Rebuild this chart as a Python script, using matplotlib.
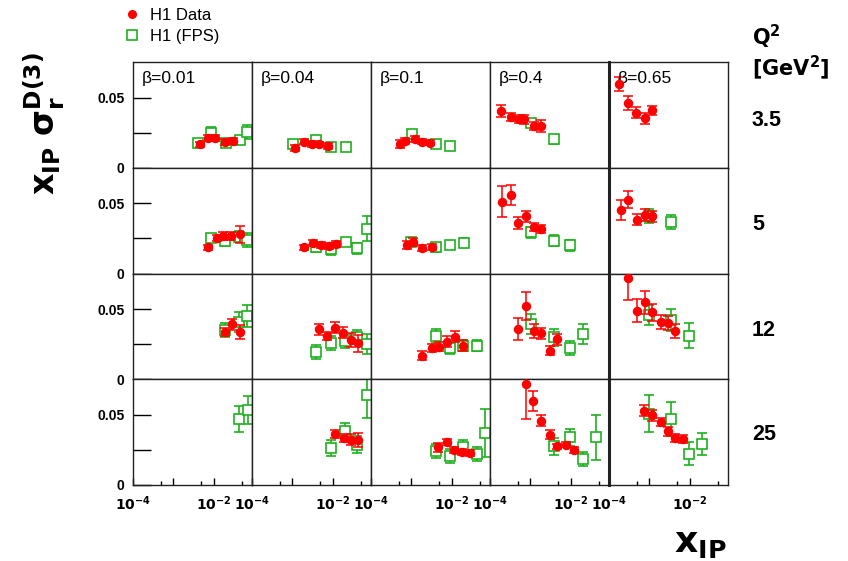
import matplotlib
matplotlib.use("Agg")
import matplotlib.pyplot as plt
from matplotlib.lines import Line2D

BETAS = ["0.01", "0.04", "0.1", "0.4", "0.65"]
Q2 = ["3.5", "5", "12", "25"]

# H1 data, indexed [Q2 row][beta column]
red_x = [
    [[0.0045, 0.0073, 0.0106, 0.0195, 0.030],
     [0.00117, 0.00194, 0.0030, 0.0046, 0.0076],
     [0.00051, 0.00071, 0.00122, 0.00189, 0.0029],
     [0.00019, 0.00033, 0.00051, 0.00071, 0.00122, 0.00189],
     [0.00018, 0.00029, 0.00048, 0.00077, 0.00115]],
    [[0.0073, 0.0121, 0.0175, 0.027, 0.0446],
     [0.00194, 0.0032, 0.0052, 0.0080, 0.0123],
     [0.00079, 0.0011, 0.00189, 0.0033],
     [0.00020, 0.00033, 0.00049, 0.00079, 0.00122, 0.00189],
     [0.00020, 0.00030, 0.00050, 0.00077, 0.0012]],
    [[0.0195, 0.0288, 0.0466],
     [0.0046, 0.0072, 0.0115, 0.0179, 0.0294, 0.0427],
     [0.00189, 0.0033, 0.0048, 0.0075, 0.0121, 0.0195],
     [0.00049, 0.00079, 0.00122, 0.00189, 0.0031, 0.0047],
     [0.00030, 0.00050, 0.00077, 0.0012, 0.00194, 0.00286, 0.0044]],
    [[],
     [0.0115, 0.0191, 0.0294, 0.0436],
     [0.0045, 0.0075, 0.0115, 0.0186, 0.0288],
     [0.00079, 0.00117, 0.00189, 0.0031, 0.0047, 0.0075, 0.0121],
     [0.00074, 0.0012, 0.00194, 0.00286, 0.0044, 0.0068]],
]
red_y = [
    [[0.0167, 0.0214, 0.0214, 0.0183, 0.019],
     [0.0143, 0.0186, 0.0171, 0.0167, 0.0155],
     [0.0171, 0.019, 0.0207, 0.0186, 0.0179],
     [0.0405, 0.0362, 0.035, 0.0345, 0.0298, 0.0298],
     [0.0595, 0.0464, 0.0393, 0.0352, 0.041]],
    [[0.0186, 0.0252, 0.0269, 0.0269, 0.0281],
     [0.0186, 0.0217, 0.0205, 0.0198, 0.021],
     [0.0202, 0.0226, 0.0181, 0.019],
     [0.0512, 0.056, 0.036, 0.0407, 0.0333, 0.0317],
     [0.0455, 0.0526, 0.0383, 0.0417, 0.0407]],
    [[0.0336, 0.0393, 0.034],
     [0.0357, 0.031, 0.0369, 0.0333, 0.0281, 0.0257],
     [0.0169, 0.0221, 0.0233, 0.0269, 0.0305, 0.024],
     [0.0357, 0.0524, 0.0345, 0.0329, 0.0205, 0.0286],
     [0.0726, 0.049, 0.0548, 0.0479, 0.0407, 0.040, 0.0345]],
    [[],
     [0.0364, 0.0336, 0.0324, 0.0324],
     [0.0269, 0.0307, 0.0248, 0.0236, 0.0229],
     [0.0721, 0.0598, 0.046, 0.036, 0.0276, 0.0288, 0.0248],
     [0.0531, 0.0498, 0.045, 0.0383, 0.0336, 0.0329]],
]
red_err = [
    [[0.002, 0.002, 0.002, 0.002, 0.002],
     [0.002, 0.002, 0.002, 0.002, 0.002],
     [0.003, 0.002, 0.002, 0.002, 0.002],
     [0.004, 0.003, 0.003, 0.003, 0.003, 0.004],
     [0.005, 0.005, 0.004, 0.004, 0.003]],
    [[0.002, 0.002, 0.003, 0.003, 0.006],
     [0.002, 0.002, 0.002, 0.002, 0.002],
     [0.003, 0.003, 0.002, 0.002],
     [0.011, 0.007, 0.004, 0.004, 0.003, 0.003],
     [0.007, 0.006, 0.004, 0.004, 0.004]],
    [[0.003, 0.004, 0.005],
     [0.004, 0.003, 0.004, 0.004, 0.005, 0.006],
     [0.003, 0.003, 0.003, 0.004, 0.004, 0.004],
     [0.008, 0.010, 0.005, 0.004, 0.003, 0.004],
     [0.016, 0.008, 0.008, 0.006, 0.005, 0.005, 0.005]],
    [[],
     [0.003, 0.003, 0.004, 0.005],
     [0.003, 0.002, 0.002, 0.002, 0.002],
     [0.025, 0.007, 0.004, 0.003, 0.002, 0.002, 0.002],
     [0.004, 0.004, 0.003, 0.003, 0.003, 0.003]],
]

# H1 FPS data
fps_x = [
    [[0.0040, 0.0087, 0.0208, 0.0446, 0.0689],
     [0.00107, 0.0039, 0.0093, 0.0212],
     [0.00103, 0.0041, 0.0093],
     [0.00105, 0.0039],
     []],
    [[0.0087, 0.0195, 0.0418, 0.0689],
     [0.0039, 0.0093, 0.0212, 0.0408, 0.0705],
     [0.00098, 0.0041, 0.0093, 0.0199],
     [0.00105, 0.0038, 0.0097],
     [0.00101, 0.00356]],
    [[0.0195, 0.0418, 0.0689],
     [0.0039, 0.0093, 0.0199, 0.0408, 0.0736],
     [0.0041, 0.0093, 0.0195, 0.0418],
     [0.00105, 0.0038, 0.0097, 0.0204],
     [0.00101, 0.00356, 0.0095]],
    [[0.0436, 0.0705],
     [0.0093, 0.0203, 0.0408, 0.0705],
     [0.0041, 0.0093, 0.0195, 0.0418, 0.0689],
     [0.0038, 0.0097, 0.0204, 0.0417],
     [0.00101, 0.00356, 0.0095, 0.0203]],
]
fps_y = [
    [[0.0179, 0.025, 0.0179, 0.0198, 0.0257],
     [0.0171, 0.020, 0.0148, 0.0148],
     [0.0243, 0.0171, 0.0155],
     [0.0321, 0.0202],
     []],
    [[0.0252, 0.0233, 0.0264, 0.024],
     [0.0186, 0.0174, 0.0226, 0.0181, 0.0321],
     [0.0226, 0.0186, 0.0202, 0.0221],
     [0.0293, 0.0233, 0.0202],
     [0.0412, 0.0369]],
    [[0.0352, 0.0407, 0.0452],
     [0.0193, 0.0257, 0.0276, 0.030, 0.0252],
     [0.031, 0.0221, 0.024, 0.024],
     [0.0395, 0.030, 0.0221, 0.0324],
     [0.046, 0.0424, 0.031]],
    [[0.0471, 0.0538],
     [0.0264, 0.0383, 0.0288, 0.064],
     [0.024, 0.0205, 0.0269, 0.0224, 0.0371],
     [0.0276, 0.034, 0.0186, 0.034],
     [0.051, 0.0471, 0.0224, 0.0293]],
]
fps_err = [
    [[0.002, 0.004, 0.002, 0.003, 0.005],
     [0.002, 0.003, 0.002, 0.002],
     [0.003, 0.002, 0.003],
     [0.003, 0.003],
     []],
    [[0.003, 0.004, 0.004, 0.005],
     [0.003, 0.004, 0.003, 0.004, 0.009],
     [0.003, 0.003, 0.003, 0.003],
     [0.004, 0.004, 0.004],
     [0.005, 0.005]],
    [[0.005, 0.007, 0.008],
     [0.005, 0.005, 0.005, 0.005, 0.007],
     [0.005, 0.004, 0.004, 0.004],
     [0.007, 0.006, 0.005, 0.007],
     [0.007, 0.008, 0.009]],
    [[0.009, 0.010],
     [0.006, 0.006, 0.006, 0.016],
     [0.005, 0.005, 0.005, 0.005, 0.017],
     [0.006, 0.006, 0.005, 0.016],
     [0.013, 0.012, 0.008, 0.008]],
]

RED = "#ff0000"
GREEN = "#1fb01f"

fig, axes = plt.subplots(4, 5, figsize=(8.48, 5.61), dpi=100)
fig.subplots_adjust(left=133 / 848, right=728 / 848, top=1 - 62 / 561,
                    bottom=1 - 485 / 561, wspace=0, hspace=0)

for r in range(4):
    for c in range(5):
        ax = axes[r][c]
        ax.set_xscale("log")
        if fps_x[r][c]:
            ax.errorbar(fps_x[r][c], fps_y[r][c], yerr=fps_err[r][c], fmt="s",
                        ms=7, mfc="white", mec=GREEN, mew=1.2, ecolor=GREEN,
                        elinewidth=1.2, capsize=3.5, capthick=1.2, zorder=2)
        if red_x[r][c]:
            ax.errorbar(red_x[r][c], red_y[r][c], yerr=red_err[r][c], fmt="o",
                        ms=5.8, color=RED, ecolor=RED, elinewidth=1.1,
                        capsize=3.5, capthick=1.1, zorder=3)
        ax.set_xlim(1e-4, 0.09)
        ax.set_ylim(0, 0.0755)
        for s in ax.spines.values():
            s.set_linewidth(1.0)
            s.set_color("#222222")
        if c == 4:
            ax.spines["left"].set_linewidth(2.2)

        # y ticks only in first column
        ax.set_yticks([0, 0.05])
        ax.set_yticks([0.025], minor=True)
        if c == 0:
            ax.set_yticklabels(["0", "0.05"], fontsize=10, fontweight="bold",
                               family="Liberation Sans")
            ax.tick_params(axis="y", which="both", direction="in", length=13,
                           width=1, pad=6)
        else:
            ax.tick_params(axis="y", which="both", left=False, labelleft=False)

        # x ticks only in bottom row
        ax.set_xticks([1e-4, 1e-3, 1e-2])
        ax.set_xticks([5e-4, 5e-3, 5e-2], minor=True)
        if r == 3:
            ax.set_xticklabels([r"$\mathbf{10^{-4}}$", "", r"$\mathbf{10^{-2}}$"],
                               fontsize=10)
            ax.tick_params(axis="x", which="major", direction="in", length=5,
                           width=1, pad=7)
            ax.tick_params(axis="x", which="minor", direction="in", length=3,
                           width=1)
        else:
            ax.tick_params(axis="x", which="both", bottom=False,
                           labelbottom=False)

        if r == 0:
            ax.text(0.07, 0.84, "\u03b2=" + BETAS[c], transform=ax.transAxes,
                    fontsize=12.5, family="Liberation Sans", va="center")

# Q2 labels on the right
fig.text(752 / 848, 1 - 37 / 561, r"$\mathbf{Q^2}$", fontsize=15,
         va="center", ha="left")
fig.text(752 / 848, 1 - 68 / 561, r"$\mathbf{[GeV^2]}$", fontsize=15,
         va="center", ha="left")
for r, q in enumerate(Q2):
    fig.text(752 / 848, 1 - (120 + 105 * r) / 561, q, fontsize=15.5,
             fontweight="bold", family="Liberation Sans", va="center",
             ha="left")

# axis titles
fig.text(43 / 848, 1 - 124 / 561,
         r"$\mathbf{x_{IP}}\ \mathbf{\sigma_{r}^{D(3)}}$",
         rotation=90, fontsize=24, va="center", ha="center")
fig.text(700 / 848, 1 - 543 / 561, r"$\mathbf{x_{IP}}$", fontsize=26,
         va="center", ha="center")

# legend
handles = [
    Line2D([], [], ls="none", marker="o", ms=5.5, color=RED),
    Line2D([], [], ls="none", marker="s", ms=7, mfc="white", mec=GREEN,
           mew=1.2),
]
fig.legend(handles, ["H1 Data", "H1 (FPS)"], loc="upper left",
           bbox_to_anchor=(117 / 848, 1 - 1 / 561), frameon=False,
           prop={"family": "Liberation Sans", "size": 12},
           handlelength=1.0, handletextpad=0.6, labelspacing=0.35,
           borderaxespad=0)

fig.savefig("out.png", dpi=100)
